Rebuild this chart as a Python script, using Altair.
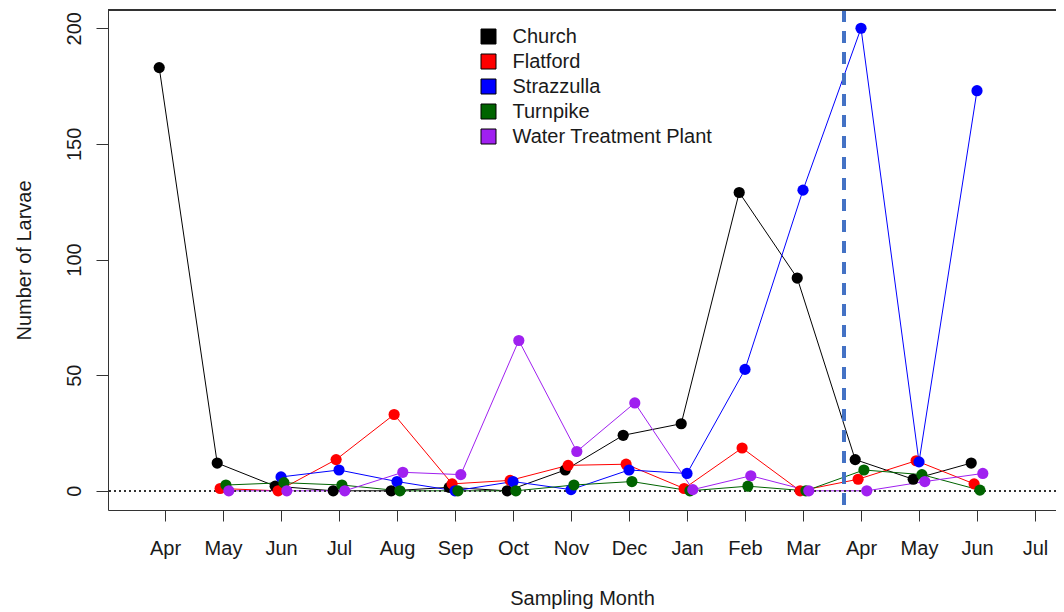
import altair as alt
import pandas as pd

# ---- data ----
sites = ["Church", "Flatford", "Strazzulla", "Turnpike", "Water Treatment Plant"]
site_colors = ["#000000", "#FF0000", "#0000FF", "#006400", "#A020F0"]
site_offsets = [-0.1, -0.05, 0.0, 0.05, 0.1]   # small horizontal shift per site (months)

month_labels = ["Apr", "May", "Jun", "Jul", "Aug", "Sep", "Oct", "Nov",
                "Dec", "Jan", "Feb", "Mar", "Apr", "May", "Jun", "Jul"]

church     = [183, 12, 2, 0, 0, 1.5, 0, 9, 24, 29, 129, 92, 13.5, 5, 12]
flatford   = [None, 1, 0, 13.5, 33, 3, 4.5, 11, 11.5, 1, 18.5, 0, 5, 13, 3]
strazzulla = [None, None, 6, 9, 4, 0, 4, 0.5, 9, 7.5, 52.5, 130, 200, 12.5, 173]
turnpike   = [None, 2.5, 3.5, 2.5, 0, 0, 0, 2.5, 4, 0, 2, 0, 9, 7, 0.3]
wtp        = [None, 0, 0, 0, 8, 7, 65, 17, 38, 0.5, 6.5, 0, 0, 4, 7.5]

divider_month = 11.7
y_ticks = [0, 50, 100, 150, 200]

# ---- build table ----
rows = []
for site, off, vals in zip(sites, site_offsets, [church, flatford, strazzulla, turnpike, wtp]):
    for i, v in enumerate(vals):
        if v is not None:
            rows.append({"site": site, "month": i + off, "larvae": v, "idx": i})
df = pd.DataFrame(rows)

W, H = 948, 500
TXT = "#1a1a1a"
AX = "#333333"

label_array = "[" + ",".join("'" + m + "'" for m in month_labels) + "]"

x_scale = alt.Scale(domain=[-0.983, 15.362], nice=False, zero=False)
y_scale = alt.Scale(domain=[-8.3, 207.9], nice=False, zero=False)

x_axis = alt.Axis(values=list(range(len(month_labels))), labelExpr=label_array + "[datum.value]",
                  tickSize=11, tickColor=AX, domainColor=AX, labelFontSize=20, labelPadding=17,
                  labelColor=TXT, labelFlush=False, labelOverlap=False, grid=False,
                  title="Sampling Month", titleFontSize=20, titleFontWeight="normal",
                  titleColor=TXT, titlePadding=30)
y_axis = alt.Axis(values=y_ticks, tickSize=12, tickColor=AX, domainColor=AX, labelFontSize=20,
                  labelAngle=270, labelAlign="center", labelBaseline="bottom", labelPadding=12,
                  labelColor=TXT, grid=False, title="Number of Larvae", titleFontSize=20,
                  titleFontWeight="normal", titleColor=TXT, titlePadding=30)

color_scale = alt.Scale(domain=sites, range=site_colors)

# one line layer per site (fixed colour), points carry the colour legend
line_layers = []
for k, (site, col) in enumerate(zip(sites, site_colors)):
    if k == 0:
        enc = dict(
            x=alt.X("month:Q", scale=x_scale, axis=x_axis),
            y=alt.Y("larvae:Q", scale=y_scale, axis=y_axis),
            order="idx:Q",
        )
    else:
        enc = dict(x="month:Q", y="larvae:Q", order="idx:Q")
    line_layers.append(
        alt.Chart(df[df["site"] == site]).mark_line(strokeWidth=1, color=col).encode(**enc)
    )

points = alt.Chart(df).mark_circle(size=125, opacity=1).encode(
    x="month:Q",
    y="larvae:Q",
    color=alt.Color("site:N", scale=color_scale,
                    legend=alt.Legend(orient="none", legendX=370.5, legendY=16.5, title=None,
                                      symbolType="square", symbolSize=225,
                                      symbolStrokeColor="black", symbolStrokeWidth=1,
                                      symbolOpacity=1, labelFontSize=20, labelColor=TXT,
                                      labelLimit=0, labelOffset=14, rowPadding=5, padding=0)),
)

zero_line = alt.Chart(df).mark_rule(color=AX, strokeWidth=1, strokeDash=[2, 3]).encode(
    y=alt.datum(0)
)

divider = alt.Chart(df).mark_rule(color="#4472C4", strokeWidth=3, strokeDash=[12, 9]).encode(
    x=alt.datum(divider_month)
)

top_border = alt.Chart(df).mark_rule(color=AX, strokeWidth=1).encode(
    x=alt.value(0), x2=alt.value(W), y=alt.value(0)
)

chart = alt.layer(*line_layers, zero_line, points, divider, top_border).properties(
    width=W, height=H,
    autosize=alt.AutoSizeParams(type="none"),
    padding={"left": 100, "top": 2, "right": 0, "bottom": 100},
).configure(font="Liberation Sans").configure_view(strokeWidth=0)

chart.save("out.html", embed_options={"renderer": "svg", "actions": False})
